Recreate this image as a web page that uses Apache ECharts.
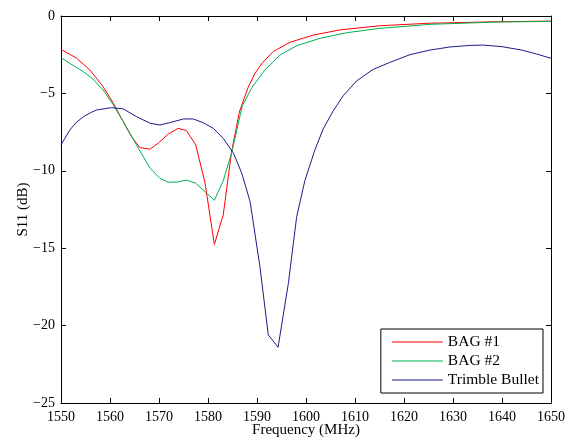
<!DOCTYPE html>
<html>
<head>
<meta charset="utf-8">
<script src="https://cdn.jsdelivr.net/npm/echarts@6/dist/echarts.min.js"></script>
<style>
  html, body { margin: 0; padding: 0; background: #fff; }
  #chart { width: 566px; height: 441px; }
</style>
</head>
<body>
<div id="chart"></div>
<script>
// Reflection coefficient S11 (dB) versus frequency (MHz)
const bag1Freq = [1550, 1553.2, 1555.9, 1558.6, 1560.7, 1562.7, 1564.4, 1566.1, 1568.2, 1569.9,
  1571.9, 1573.9, 1575.6, 1577.5, 1579.4, 1581.3, 1583.1, 1584.8, 1586.4, 1588.2, 1589.6, 1591,
  1593.3, 1596.7, 1601.5, 1606.9, 1615, 1625, 1639, 1650];
const bag1S11 = [-2.15, -2.73, -3.49, -4.57, -5.64, -6.83, -7.8, -8.5, -8.6, -8.2,
  -7.62, -7.26, -7.4, -8.33, -10.8, -14.75, -12.86, -8.8, -6.2, -4.6, -3.7, -3.06,
  -2.3, -1.7, -1.23, -0.9, -0.63, -0.47, -0.37, -0.33];

const bag2Freq = [1550, 1552, 1554.6, 1556.6, 1558.6, 1560.7, 1563.1, 1565.8, 1568.2, 1570.2,
  1571.9, 1573.8, 1575.6, 1577.5, 1579.4, 1581.3, 1583.1, 1584.8, 1587, 1589, 1591.6, 1594.7,
  1598.1, 1602.9, 1608.3, 1615.1, 1625.3, 1638.9, 1650];
const bag2S11 = [-2.69, -3.1, -3.6, -4.1, -4.78, -5.75, -7.04, -8.55, -9.84, -10.49,
  -10.74, -10.72, -10.6, -10.8, -11.35, -11.9, -10.64, -8.87, -5.8, -4.6, -3.49, -2.52,
  -1.92, -1.44, -1.08, -0.8, -0.54, -0.39, -0.35];

const bulletFreq = [1550, 1551.8, 1553.2, 1554.6, 1556, 1557.3, 1560.3, 1562.7, 1565.4, 1568.2,
  1570.2, 1572.2, 1575, 1577, 1579, 1581.1, 1583.1, 1585.2, 1586.9, 1588.6, 1590.6, 1592.3,
  1594.3, 1596.4, 1598.1, 1599.8, 1601.8, 1603.5, 1605.6, 1607.6, 1610.3, 1613.7, 1617.1,
  1621.2, 1625.3, 1629.4, 1633.5, 1636.2, 1640, 1644, 1647, 1650];
const bulletS11 = [-8.33, -7.36, -6.85, -6.5, -6.25, -6.07, -5.92, -6.0, -6.5, -6.93,
  -7.04, -6.89, -6.65, -6.65, -6.89, -7.26, -7.9, -8.87, -10.16, -12.0, -16.2, -20.6,
  -21.4, -17.27, -12.96, -10.6, -8.66, -7.3, -6.1, -5.15, -4.2, -3.45, -3.0,
  -2.5, -2.2, -2.0, -1.9, -1.88, -1.98, -2.2, -2.45, -2.73];

const seriesNames = ['BAG #1', 'BAG #2', 'Trimble Bullet'];
const seriesColors = ['#ff0000', '#00b050', '#1c1c8c'];

const FONT = 'Liberation Serif';
const pairs = (xs, ys) => xs.map((x, i) => [x, ys[i]]);
const minus = v => String(v).replace('-', '\u2212');

const axisCommon = {
  axisLine: { show: true, onZero: false, lineStyle: { color: '#000', width: 1 } },
  axisTick: { show: true, inside: true, length: 5, lineStyle: { color: '#000' } },
  splitLine: { show: false }
};

const chart = echarts.init(document.getElementById('chart'), null, { renderer: 'canvas' });
chart.setOption({
  animation: false,
  backgroundColor: '#fff',
  grid: { left: 61, right: 15, top: 16, bottom: 38, containLabel: false, outerBoundsMode: 'none' },
  xAxis: [
    Object.assign({
      type: 'value', min: 1550, max: 1650, interval: 10, position: 'bottom',
      name: 'Frequency (MHz)', nameLocation: 'middle', nameGap: 20, nameMoveOverlap: false,
      nameTextStyle: { fontFamily: FONT, fontSize: 15, color: '#000' },
      axisLabel: { fontFamily: FONT, fontSize: 14, color: '#000', margin: 7, formatter: v => String(v) }
    }, axisCommon),
    Object.assign({
      type: 'value', min: 1550, max: 1650, interval: 10, position: 'top',
      axisLabel: { show: false }
    }, axisCommon)
  ],
  yAxis: [
    Object.assign({
      type: 'value', min: -25, max: 0, interval: 5, position: 'left',
      name: 'S11 (dB)', nameLocation: 'middle', nameGap: 30, nameMoveOverlap: false,
      nameTextStyle: { fontFamily: FONT, fontSize: 15, color: '#000' },
      axisLabel: { fontFamily: FONT, fontSize: 14, color: '#000', margin: 6, formatter: minus }
    }, axisCommon),
    Object.assign({
      type: 'value', min: -25, max: 0, interval: 5, position: 'right',
      axisLabel: { show: false }
    }, axisCommon)
  ],
  legend: {
    orient: 'vertical', right: 23, bottom: 48,
    backgroundColor: '#fff', borderColor: '#000', borderWidth: 1, borderRadius: 0,
    padding: [5, 4, 5, 11], itemGap: 3, itemWidth: 51, itemHeight: 1, icon: 'rect',
    textStyle: { fontFamily: FONT, fontSize: 15.5, color: '#000' },
    data: seriesNames
  },
  series: [
    { data: pairs(bag1Freq, bag1S11) },
    { data: pairs(bag2Freq, bag2S11) },
    { data: pairs(bulletFreq, bulletS11) }
  ].map((s, i) => ({
    name: seriesNames[i], type: 'line', symbol: 'none', smooth: false,
    data: s.data, color: seriesColors[i],
    lineStyle: { width: 1, color: seriesColors[i] }
  }))
});
</script>
</body>
</html>
